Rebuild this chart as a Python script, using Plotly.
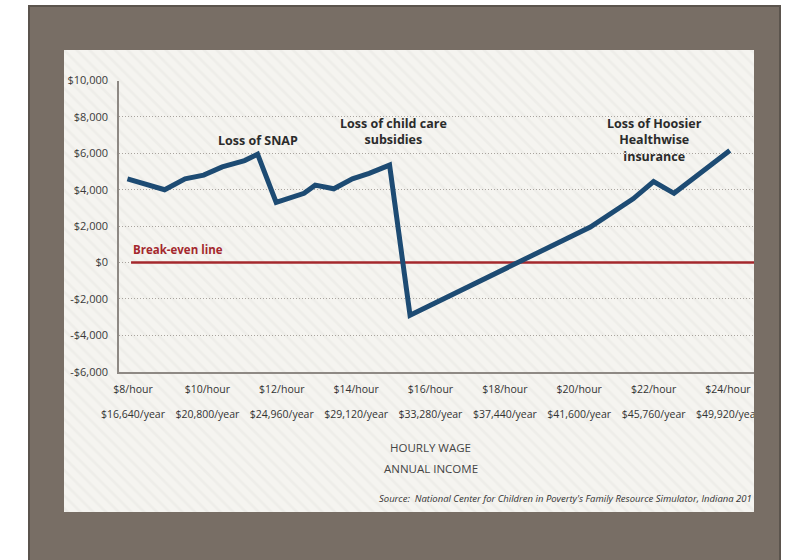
import plotly.graph_objects as go

W, H = 790, 560

# Net change in resources by hourly wage (dollars per year)
hourly_wage = [7.85, 8.85, 9.4, 9.9, 10.4, 11.0, 11.35, 11.85, 12.6, 12.9,
               13.4, 13.9, 14.35, 14.9, 15.45, 20.3, 21.45, 22.0, 22.55, 24.05]
net_resources = [4600, 4000, 4600, 4800, 5250, 5600, 5950, 3300, 3800, 4250,
                 4050, 4600, 4900, 5350, -2900, 1950, 3500, 4450, 3800, 6150]

tick_wages = [8, 10, 12, 14, 16, 18, 20, 22, 24]
hour_labels = ["$8/hour", "$10/hour", "$12/hour", "$14/hour", "$16/hour",
               "$18/hour", "$20/hour", "$22/hour", "$24/hour"]
year_labels = ["$16,640/year", "$20,800/year", "$24,960/year", "$29,120/year",
               "$33,280/year", "$37,440/year", "$41,600/year", "$45,760/year",
               "$49,920/year"]
y_ticks = [-6000, -4000, -2000, 0, 2000, 4000, 6000, 8000, 10000]
y_labels = ["-$6,000", "-$4,000", "-$2,000", "$0", "$2,000", "$4,000",
            "$6,000", "$8,000", "$10,000"]
break_even = 0

FRAME = "#786e65"
FRAME_EDGE = "#5b544d"
PANEL = "#f5f4f0"
BLUE = "#1d4b73"
RED = "#a4282d"
TEXT = "#2b2b2b"
FONT = "Open Sans"


def fx(p):
    return p / W


def fy(p):
    return 1 - p / H


X_RANGE = [7.623, 24.701]
# break-even line starts a little right of the y axis
be_start = X_RANGE[0] + 0.019 * (X_RANGE[1] - X_RANGE[0])

fig = go.Figure()

# Striped panel background on its own hidden subplot
fig.add_trace(go.Scatter(
    x=[0, 1, 1, 0, 0], y=[0, 0, 1, 1, 0], mode="lines", fill="toself",
    fillcolor=PANEL, line=dict(width=0),
    fillpattern=dict(shape="\\", fgcolor="#e8e6e1", bgcolor=PANEL,
                     size=9, solidity=0.3),
    hoverinfo="skip", showlegend=False, xaxis="x", yaxis="y"))

# Break-even reference line
fig.add_trace(go.Scatter(
    x=[be_start, X_RANGE[1]], y=[break_even, break_even], mode="lines",
    line=dict(color=RED, width=2.5), hoverinfo="skip", showlegend=False,
    xaxis="x2", yaxis="y2"))

# Main series
fig.add_trace(go.Scatter(
    x=hourly_wage, y=net_resources, mode="lines",
    line=dict(color=BLUE, width=5, shape="linear"),
    showlegend=False, xaxis="x2", yaxis="y2"))

# Empty trace so the annual-income axis renders its labels
fig.add_trace(go.Scatter(x=[None], y=[None], xaxis="x3", yaxis="y2",
                         showlegend=False, hoverinfo="skip"))

fig.update_layout(
    width=W, height=H,
    margin=dict(l=0, r=0, t=0, b=0, pad=0, autoexpand=False),
    showlegend=False,
    paper_bgcolor="white", plot_bgcolor="rgba(0,0,0,0)",
    font=dict(family=FONT, color=TEXT),
    xaxis=dict(domain=[fx(64), fx(754)], range=[0, 1], visible=False,
               fixedrange=True, automargin=False),
    yaxis=dict(domain=[fy(512), fy(50)], range=[0, 1], visible=False,
               fixedrange=True, automargin=False),
    xaxis2=dict(domain=[fx(119), fx(754)], anchor="y2", range=X_RANGE,
                tickvals=tick_wages, ticktext=hour_labels, ticks="",
                showline=True, linecolor="#8e8984", linewidth=2,
                showgrid=False, zeroline=False, ticklabelstandoff=7,
                automargin=False,
                tickfont=dict(family=FONT, size=10.5, color="#333333")),
    xaxis3=dict(overlaying="x2", anchor="y2", side="bottom", range=X_RANGE,
                tickvals=tick_wages, ticktext=year_labels, ticks="",
                showline=False, showgrid=False, zeroline=False,
                ticklabelstandoff=35, automargin=False,
                tickfont=dict(family=FONT, size=10.5, color="#333333")),
    yaxis2=dict(domain=[fy(371.7), fy(80.5)], anchor="x2",
                range=[-6000, 10000], tickvals=y_ticks, ticktext=y_labels,
                ticks="", showline=True, linecolor="#8e8984", linewidth=1.5,
                showgrid=True, gridcolor="#a9a49e", griddash="1px,2px",
                gridwidth=1, zeroline=False, ticklabelstandoff=7,
                automargin=False,
                tickfont=dict(family=FONT, size=11, color="#3a3a3a")),
)

shapes = [
    # outer frame
    dict(type="rect", xref="paper", yref="paper", layer="below",
         x0=fx(29), x1=fx(780), y0=fy(565), y1=fy(6),
         fillcolor=FRAME, line=dict(color=FRAME_EDGE, width=2)),
    # inner panel
    dict(type="rect", xref="paper", yref="paper", layer="below",
         x0=fx(64), x1=fx(754), y0=fy(512), y1=fy(50),
         fillcolor=PANEL, line=dict(width=0)),
    # frame strip that trims labels running past the panel edge
    dict(type="rect", xref="paper", yref="paper", layer="above",
         x0=fx(754), x1=fx(778.5), y0=fy(512), y1=fy(50),
         fillcolor=FRAME, line=dict(width=0)),
]
fig.update_layout(shapes=shapes)

ann = [
    dict(x=fx(258), y=fy(140), text="<b>Loss of SNAP</b>",
         font=dict(size=12.5, color=TEXT)),
    dict(x=fx(393), y=fy(131.5), text="<b>Loss of child care<br>subsidies</b>",
         font=dict(size=12.5, color=TEXT)),
    dict(x=fx(654), y=fy(140),
         text="<b>Loss of Hoosier<br>Healthwise<br>insurance</b>",
         font=dict(size=12.5, color=TEXT)),
    dict(x=fx(131), y=fy(249), xanchor="left", text="<b>Break-even line</b>",
         font=dict(size=11.5, color=RED)),
    dict(x=fx(430), y=fy(447), text="HOURLY WAGE",
         font=dict(size=11.5, color="#444444")),
    dict(x=fx(431), y=fy(468), text="ANNUAL INCOME",
         font=dict(size=11.5, color="#444444")),
    dict(x=fx(754), y=fy(498), xanchor="right",
         text="<i>Source:  National Center for Children in Poverty's Family "
              "Resource Simulator, Indiana 201</i>",
         font=dict(size=9.5, color="#333333")),
]
for a in ann:
    a.setdefault("xanchor", "center")
    a.update(xref="paper", yref="paper", yanchor="middle", showarrow=False)
fig.update_layout(annotations=ann)

fig.write_html(
    "out.html",
    post_script="document.body.style.margin='0';"
                "document.body.style.overflow='hidden';",
)
